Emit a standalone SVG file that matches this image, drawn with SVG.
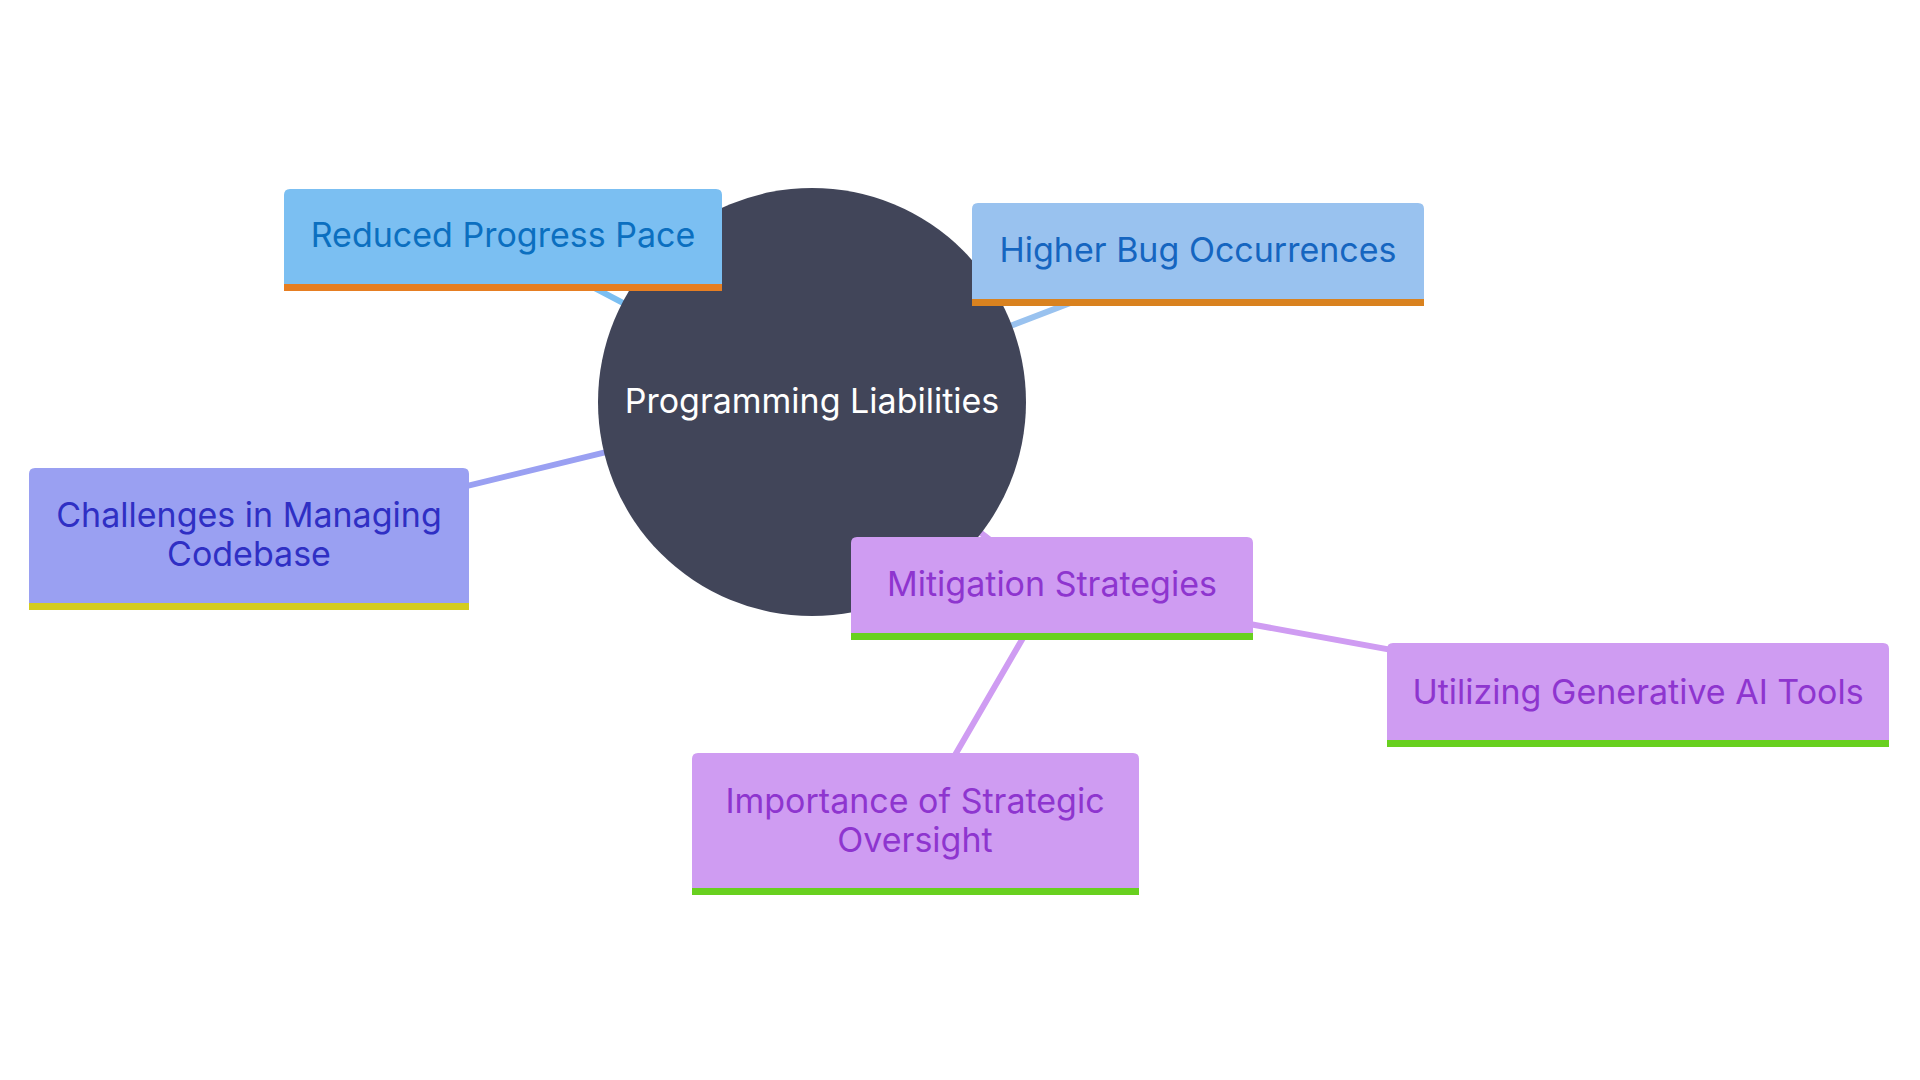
<svg xmlns="http://www.w3.org/2000/svg" width="1920" height="1080" viewBox="0 0 1920 1080">
<style>
.lbl{font-family:Inter,"Noto Sans","Liberation Sans",sans-serif;font-size:34px;text-anchor:middle;dominant-baseline:central}
.edge{stroke-width:6;fill:none;stroke-linecap:round}
</style>
<rect width="1920" height="1080" fill="#ffffff"/>
<g id="connectors">
<line class="edge" x1="503" y1="240" x2="812" y2="402" stroke="#7bbff2"/>
<line class="edge" x1="1198" y1="254" x2="812" y2="402" stroke="#99c2ef"/>
<line class="edge" x1="249" y1="539" x2="812" y2="402" stroke="#9aa0f2"/>
<line class="edge" x1="1052" y1="588" x2="812" y2="402" stroke="#cf9cf2"/>
<line class="edge" x1="1052" y1="588" x2="1638" y2="695" stroke="#cf9cf2"/>
<line class="edge" x1="1052" y1="588" x2="915" y2="824" stroke="#cf9cf2"/>
</g>
<g id="root">
<circle cx="812" cy="402" r="214" fill="#414559"/>
<text class="lbl" x="812" y="400" fill="#ffffff">Programming Liabilities</text>
</g>
<g id="reduced">
<path d="M284,291 V195 Q284,189 290,189 H716 Q722,189 722,195 V291 Z" fill="#7bbff2"/>
<rect x="284" y="284" width="438" height="7" fill="#e67e22"/>
<text class="lbl" x="503" y="234" fill="#0b6fc0">Reduced Progress Pace</text>
</g>
<g id="higher">
<path d="M972,306 V209 Q972,203 978,203 H1418 Q1424,203 1424,209 V306 Z" fill="#99c2ef"/>
<rect x="972" y="299" width="452" height="7" fill="#d9821f"/>
<text class="lbl" x="1198" y="249" fill="#1565c0">Higher Bug Occurrences</text>
</g>
<g id="challenges">
<path d="M29,610 V474 Q29,468 35,468 H463 Q469,468 469,474 V610 Z" fill="#9aa0f2"/>
<rect x="29" y="603" width="440" height="7" fill="#d4cc1f"/>
<text class="lbl" x="249" y="514" fill="#2f2fc4">Challenges in Managing</text>
<text class="lbl" x="249" y="553" fill="#2f2fc4">Codebase</text>
</g>
<g id="mitigation">
<path d="M851,640 V543 Q851,537 857,537 H1247 Q1253,537 1253,543 V640 Z" fill="#cf9cf2"/>
<rect x="851" y="633" width="402" height="7" fill="#68d01f"/>
<text class="lbl" x="1052" y="583" fill="#8e35cf">Mitigation Strategies</text>
</g>
<g id="utilizing">
<path d="M1387,747 V649 Q1387,643 1393,643 H1883 Q1889,643 1889,649 V747 Z" fill="#cf9cf2"/>
<rect x="1387" y="740" width="502" height="7" fill="#68d01f"/>
<text class="lbl" x="1638" y="691" fill="#8e35cf">Utilizing Generative AI Tools</text>
</g>
<g id="importance">
<path d="M692,895 V759 Q692,753 698,753 H1133 Q1139,753 1139,759 V895 Z" fill="#cf9cf2"/>
<rect x="692" y="888" width="447" height="7" fill="#68d01f"/>
<text class="lbl" x="915" y="800" fill="#8e35cf">Importance of Strategic</text>
<text class="lbl" x="915" y="839" fill="#8e35cf">Oversight</text>
</g>
</svg>
